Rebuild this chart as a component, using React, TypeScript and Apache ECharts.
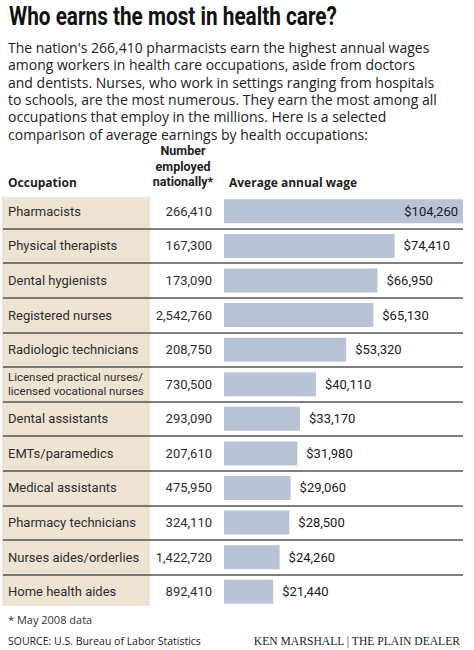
import React, { useEffect, useRef } from "react";
import * as echarts from "echarts";

const occupations = [
  "Pharmacists",
  "Physical therapists",
  "Dental hygienists",
  "Registered nurses",
  "Radiologic technicians",
  "Licensed practical nurses/\nlicensed vocational nurses",
  "Dental assistants",
  "EMTs/paramedics",
  "Medical assistants",
  "Pharmacy technicians",
  "Nurses aides/orderlies",
  "Home health aides",
];
const employed = [266410, 167300, 173090, 2542760, 208750, 730500, 293090, 207610, 475950, 324110, 1422720, 892410];
const wages = [104260, 74410, 66950, 65130, 53320, 40110, 33170, 31980, 29060, 28500, 24260, 21440];

const titleText = "Who earns the most in health care?";
const introLines = [
  "The nation's 266,410 pharmacists earn the highest annual wages",
  "among workers in health care occupations, aside from doctors",
  "and dentists. Nurses, who work in settings ranging from hospitals",
  "to schools, are the most numerous. They earn the most among all",
  "occupations that employ in the millions. Here is a selected",
  "comparison of average earnings by health occupations:",
];
const headerEmployed = ["Number", "employed", "nationally*"];
const footnote = "* May 2008 data";
const source = "SOURCE: U.S. Bureau of Labor Statistics";
const credit = "KEN MARSHALL | THE PLAIN DEALER";

const CELL = "Roboto, 'Noto Sans', sans-serif";
const BODY = "'Open Sans', 'Noto Sans', sans-serif";
const TXT = "#2e2e2e";

export default function App() {
  const ref = useRef<HTMLDivElement>(null);
  useEffect(() => {
    document.body.style.margin = "0";
    const chart = echarts.init(ref.current!, null, { renderer: "svg" });
    const fmt = (n: number) => n.toLocaleString("en-US");
    const maxW = Math.max(...wages);
    chart.setOption({
      animation: false,
      backgroundColor: "#ffffff",
      title: {
        left: 8,
        top: 38.5,
        text: introLines.join("\n"),
        textStyle: { fontFamily: BODY, fontWeight: "normal", fontSize: 14, lineHeight: 17.4, color: "#222" },
        padding: 0,
      },
      grid: { left: 3, right: 11, top: 194, height: 415 },
      xAxis: { type: "value", min: -96400, max: maxW, show: false },
      yAxis: [
        {
          type: "category",
          data: occupations,
          inverse: true,
          axisLine: { show: false },
          axisTick: { show: false },
          axisLabel: {
            inside: true,
            margin: 5,
            align: "left",
            fontFamily: CELL,
            fontSize: 13,
            color: TXT,
            formatter: (v: string) =>
              v.includes("\n") ? v.split("\n").map((s) => `{s|${s}}`).join("\n") : v,
            rich: { s: { fontFamily: CELL, fontSize: 11.5, lineHeight: 14, color: TXT } },
          },
          splitLine: {
            show: true,
            showMinLine: false,
            showMaxLine: false,
            lineStyle: { color: "#555", width: 1.5 },
          },
        },
        {
          type: "category",
          data: employed.map(fmt),
          inverse: true,
          position: "left",
          axisLine: { show: false },
          axisTick: { show: false },
          splitLine: { show: false },
          axisLabel: {
            inside: true,
            margin: 209,
            align: "right",
            fontFamily: CELL,
            fontSize: 13,
            color: TXT,
          },
        },
      ],
      series: [
        {
          type: "bar",
          yAxisIndex: 0,
          barWidth: 24,
          itemStyle: { color: "#b8c4d6" },
          label: {
            show: true,
            position: "right",
            distance: 9,
            fontFamily: CELL,
            fontSize: 13,
            color: "#1a1a1a",
            formatter: (p: any) => "$" + fmt(p.value),
          },
          data: wages.map((v) =>
            v > maxW * 0.9 ? { value: v, label: { position: "insideRight", distance: 5 } } : v
          ),
        },
      ],
      graphic: [
        {
          type: "rect",
          z: -1,
          shape: { x: 2, y: 197, width: 148, height: 409 },
          style: { fill: "#efe3d3" },
        },
        {
          type: "text",
          x: 9,
          y: 17,
          scaleX: 0.83,
          style: {
            text: titleText,
            font: `bold 25px ${CELL}`,
            fill: "#111",
            verticalAlign: "middle",
          },
        },
        {
          type: "text",
          x: 8,
          y: 182,
          style: { text: "Occupation", font: `bold 12px ${BODY}`, fill: "#222", verticalAlign: "middle" },
        },
        ...headerEmployed.map((t, i) => ({
          type: "text",
          x: 183,
          y: 150.5 + i * 15.5,
          style: { text: t, font: `bold 12.5px ${CELL}`, fill: "#222", align: "center", verticalAlign: "middle" },
        })),
        {
          type: "text",
          x: 229,
          y: 182,
          style: { text: "Average annual wage", font: `bold 12px ${BODY}`, fill: "#222", verticalAlign: "middle" },
        },
        {
          type: "text",
          x: 8,
          y: 619,
          style: { text: footnote, font: `11px ${BODY}`, fill: "#333", verticalAlign: "middle" },
        },
        {
          type: "text",
          x: 8,
          y: 641,
          style: { text: source, font: `10.5px ${BODY}`, fill: "#222", verticalAlign: "middle" },
        },
        {
          type: "text",
          x: 460,
          y: 641,
          style: {
            text: credit,
            font: `11.6px 'Liberation Serif', serif`,
            fill: "#222",
            align: "right",
            verticalAlign: "middle",
          },
        },
      ],
    });
    return () => chart.dispose();
  }, []);
  return <div ref={ref} style={{ width: 474, height: 650 }} />;
}
